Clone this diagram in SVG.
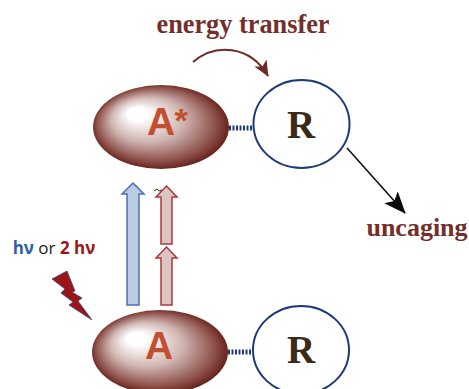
<svg xmlns="http://www.w3.org/2000/svg" width="469" height="389" viewBox="0 0 469 389">
<style>
.lab{font-family:"Liberation Serif",serif;font-weight:700;fill:#742f2a}
.cap{font-family:"Liberation Sans",sans-serif;font-weight:700;fill:#c0502f}
.r{font-family:"Liberation Serif",serif;font-weight:700;fill:#3a2a18;text-anchor:middle;font-size:39px}
.circ{fill:#fff;stroke:#1f3a78;stroke-width:2}
.dot{stroke:#1f3a78;stroke-width:5;stroke-dasharray:2 1.5;fill:none}
.blue{fill:#b8cce4;stroke:#4f6fb0;stroke-width:1.5}
.pink{fill:#dcc4c2;stroke:#a83a3a;stroke-width:1.5}
</style>
<defs>
<radialGradient id="g" cx="0.5" cy="0.5" r="0.53" fx="0.3" fy="0.32">
<stop offset="0.14" stop-color="#fff"/>
<stop offset="0.5" stop-color="#d0b6b2"/>
<stop offset="0.82" stop-color="#8f524c"/>
<stop offset="1" stop-color="#5c1610"/>
</radialGradient>
<marker id="mb" markerUnits="userSpaceOnUse" markerWidth="18" markerHeight="16" refX="15" refY="7" orient="auto"><path d="M0 0L16 7L0 14L4 7Z" fill="#6e2a26"/></marker>
<marker id="mk" markerUnits="userSpaceOnUse" markerWidth="26" markerHeight="20" refX="21" refY="9" orient="auto"><path d="M0 0L22 9L0 18L5 9Z" fill="#0a0a0a"/></marker>
</defs>
<g id="connectors">
<path d="M193 62C215 43 250 45 268 76" fill="none" stroke="#6e2a26" stroke-width="2" marker-end="url(#mb)"/>
<path d="M347 148L405 213" fill="none" stroke="#111" stroke-width="1.6" marker-end="url(#mk)"/>
<path class="dot" d="M229 128H253"/>
<path class="dot" d="M228 352H252"/>
</g>
<g id="arrow-blue"><path class="blue" d="M133 183L144 194H139V305H127V194H122Z"/></g>
<g id="arrow-red-upper"><path class="pink" d="M166.500 186L177 197H172V244H161V197H156Z"/><path d="M154 191L157 189L159 191L162 190" fill="none" stroke="#5a2a20" stroke-width="1"/></g>
<g id="arrow-red-lower"><path class="pink" d="M166.500 247L177 258H172V305H161V258H156Z"/></g>
<g id="node-a-star">
<ellipse cx="161" cy="127" rx="68" ry="42" fill="url(#g)"/>
<text class="cap" x="147" y="135" font-size="39">A</text>
<text class="cap" x="174.500" y="132" font-size="34">*</text>
</g>
<g id="node-r-top">
<ellipse class="circ" cx="301.500" cy="124" rx="48" ry="44"/>
<text class="r" x="301" y="137.500">R</text>
</g>
<g id="node-a">
<ellipse cx="160" cy="352" rx="68" ry="42" fill="url(#g)"/>
<text class="cap" x="159" y="359" font-size="39" text-anchor="middle">A</text>
</g>
<g id="node-r-bottom">
<ellipse class="circ" cx="301" cy="350" rx="48" ry="44"/>
<text class="r" x="301" y="363">R</text>
</g>
<g id="bolt"><path d="M52 279L67 271L75 291L72 292L82 298L78 301L92 320L69 305L73 302L61 293L65 289Z" fill="#9b1518" stroke="#2f4a8a" stroke-width="0.800"/></g>
<g id="labels">
<text class="lab" x="243" y="33" font-size="26.300" text-anchor="middle">energy transfer</text>
<text class="lab" x="417" y="236" font-size="26" text-anchor="middle">uncaging</text>
<text x="54" y="254" font-size="17" font-family="Open Sans,Liberation Sans,sans-serif" text-anchor="middle" font-weight="400" fill="#222"><tspan font-weight="700" fill="#2f5fa8">hν</tspan> or <tspan font-weight="700" fill="#9b1518">2 hν</tspan></text>
</g>
</svg>
